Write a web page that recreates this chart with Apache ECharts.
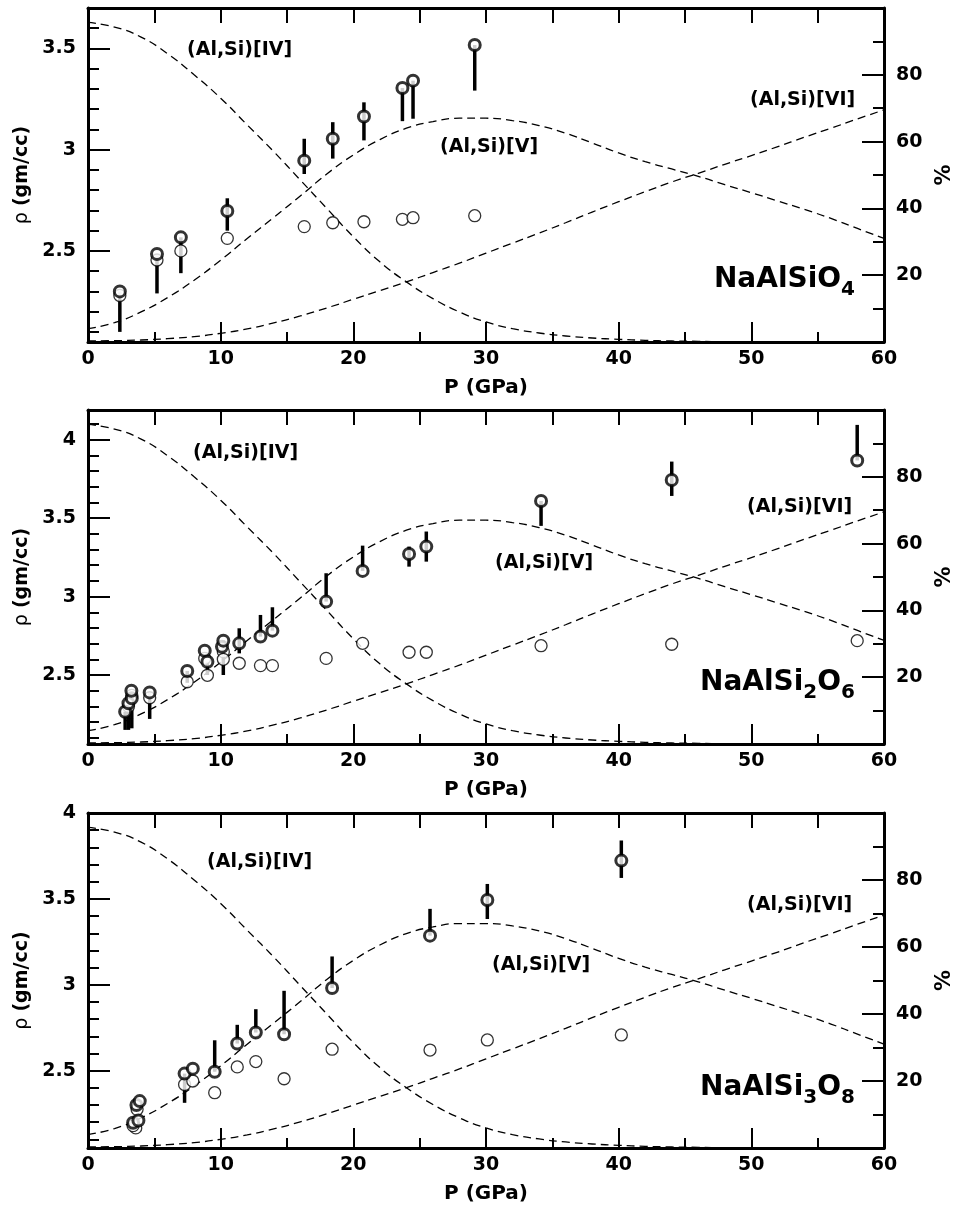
<!DOCTYPE html>
<html>
<head>
<meta charset="utf-8">
<script src="https://cdn.jsdelivr.net/npm/echarts@6/dist/echarts.min.js"></script>
<style>
  html, body { margin: 0; padding: 0; background: #fff; }
  #chart { width: 963px; height: 1214px; }
</style>
</head>
<body>
<div id="chart"></div>
<script>
// Coordination fractions of (Al,Si) versus pressure (%), shared by all three panels
const curveP = [0, 2, 4, 6, 8, 10, 12, 14, 16, 18, 20, 22, 24, 26, 28, 30,
                32, 34, 36, 38, 40, 42, 44, 46, 48, 50, 52, 54, 56, 58, 60];
const pctIV = [95.7, 94.3, 91.3, 86.3, 80, 73, 65, 57, 48.5, 40, 31.5, 24, 18, 13, 9, 6,
               4, 2.7, 1.8, 1.2, 0.8, 0.5, 0.3, 0.2, 0.1, 0.1, 0, 0, 0, 0, 0];
const pctV = [4, 5.8, 9, 13.3, 18.5, 24.5, 31, 37.3, 43.7, 50.3, 56, 60.6, 64, 66, 67, 67,
              66.3, 64.8, 62.5, 59.6, 56.6, 54, 51.8, 49.6, 47.1, 44.7, 42.2, 39.7, 37, 34, 31];
const pctVI = [0.3, 0.4, 0.6, 1.0, 1.6, 2.6, 3.9, 5.7, 7.8, 10.2, 12.8, 15.4, 18, 20.8, 23.6, 26.6,
               29.6, 32.6, 35.7, 38.9, 42, 45, 47.9, 50.5, 53.2, 55.8, 58.5, 61.3, 64, 66.8, 69.5];

// In-situ densities: [P (GPa), rho (g/cc), bar low, bar high]
const naAlSiO4InSitu = [
  [2.4, 2.30, 2.10, 2.30], [5.2, 2.485, 2.29, 2.485], [7.0, 2.567, 2.39, 2.567],
  [10.5, 2.697, 2.60, 2.76], [16.3, 2.946, 2.88, 3.054], [18.45, 3.054, 2.956, 3.136],
  [20.8, 3.164, 3.046, 3.234], [23.7, 3.305, 3.141, 3.305], [24.5, 3.341, 3.153, 3.341],
  [29.15, 3.517, 3.292, 3.517]
];
// Recovered densities: [P (GPa), rho (g/cc)]
const naAlSiO4Recovered = [
  [2.4, 2.28], [5.2, 2.455], [7.0, 2.50], [10.5, 2.562], [16.3, 2.62], [18.45, 2.639],
  [20.8, 2.644], [23.7, 2.656], [24.5, 2.664], [29.15, 2.674]
];

const naAlSi2O6InSitu = [
  [2.8, 2.266, 2.15, 2.266], [3.05, 2.32, 2.15, 2.32], [3.3, 2.351, 2.16, 2.351],
  [3.27, 2.40, 2.40, 2.40], [4.65, 2.389, 2.22, 2.389], [7.48, 2.526, 2.45, 2.526],
  [8.8, 2.655, 2.655, 2.655], [9.0, 2.585, 2.50, 2.585], [10.1, 2.68, 2.68, 2.68],
  [10.2, 2.719, 2.50, 2.719], [11.4, 2.702, 2.638, 2.798], [13.0, 2.745, 2.745, 2.883],
  [13.9, 2.783, 2.783, 2.932], [17.95, 2.968, 2.968, 3.149], [20.7, 3.164, 3.164, 3.325],
  [24.2, 3.272, 3.191, 3.319], [25.5, 3.319, 3.223, 3.415], [34.15, 3.61, 3.451, 3.61],
  [44.0, 3.744, 3.642, 3.861], [57.98, 3.868, 3.868, 4.095]
];
const naAlSi2O6Recovered = [
  [3.05, 2.30], [3.3, 2.37], [4.65, 2.355], [7.48, 2.457], [9.0, 2.498], [8.8, 2.606],
  [10.2, 2.649], [10.2, 2.60], [11.4, 2.575], [13.0, 2.56], [13.9, 2.56], [17.95, 2.606],
  [20.7, 2.702], [24.2, 2.645], [25.5, 2.645], [34.15, 2.687], [44.0, 2.696], [57.98, 2.719]
];

const naAlSi3O8InSitu = [
  [3.4, 2.197, 2.197, 2.197], [3.8, 2.21, 2.21, 2.21], [3.65, 2.30, 2.30, 2.30],
  [3.9, 2.323, 2.323, 2.323], [7.28, 2.483, 2.313, 2.483], [7.9, 2.512, 2.512, 2.512],
  [9.55, 2.494, 2.494, 2.677], [11.25, 2.658, 2.658, 2.767], [12.65, 2.722, 2.722, 2.858],
  [14.78, 2.712, 2.712, 2.965], [18.4, 2.981, 2.981, 3.165], [25.78, 3.286, 3.286, 3.442],
  [30.1, 3.494, 3.383, 3.587], [40.2, 3.723, 3.622, 3.84]
];
const naAlSi3O8Recovered = [
  [3.6, 2.167], [3.4, 2.18], [3.7, 2.275], [7.28, 2.42], [7.9, 2.44], [9.55, 2.372],
  [11.25, 2.522], [12.65, 2.553], [14.78, 2.453], [18.4, 2.625], [25.78, 2.62],
  [30.1, 2.679], [40.2, 2.708]
];

// Axis tick labels
const rhoLabels1 = [2.5, 3, 3.5];
const rhoLabels2 = [2.5, 3, 3.5, 4];
const rhoLabels3 = [2.5, 3, 3.5, 4];
const pctLabels = [20, 40, 60, 80];
const siteLabels = ['(Al,Si)[IV]', '(Al,Si)[V]', '(Al,Si)[VI]'];

const FONT = '"DejaVu Sans", sans-serif';
const BLACK = '#000';

const panels = [
  { top: 8, height: 334, rhoMin: 2.05, rhoMax: 3.7, rhoLabels: rhoLabels1,
    inSitu: naAlSiO4InSitu, recovered: naAlSiO4Recovered,
    formula: '{m|NaAlSiO}{s|4}', formulaTop: 266,
    sitePos: [[187, 50], [440, 147], [750, 100]] },
  { top: 410, height: 334, rhoMin: 2.06, rhoMax: 4.19, rhoLabels: rhoLabels2,
    inSitu: naAlSi2O6InSitu, recovered: naAlSi2O6Recovered,
    formula: '{m|NaAlSi}{s|2}{m|O}{s|6}', formulaTop: 669,
    sitePos: [[193, 453], [495, 563], [747, 507]] },
  { top: 813, height: 335, rhoMin: 2.05, rhoMax: 4.0, rhoLabels: rhoLabels3,
    inSitu: naAlSi3O8InSitu, recovered: naAlSi3O8Recovered,
    formula: '{m|NaAlSi}{s|3}{m|O}{s|8}', formulaTop: 1074,
    sitePos: [[207, 862], [492, 965], [747, 905]] }
];

function minorRhoTicks(lo, hi) {
  const out = [];
  for (let k = Math.ceil(lo * 10 + 1e-6); k <= Math.floor(hi * 10 - 1e-6); k++) {
    if (k % 5 !== 0) out.push(k / 10);
  }
  return out;
}

const frameLine = { show: true, onZero: false, lineStyle: { color: BLACK, width: 3 } };
const tickStyle = { color: BLACK, width: 2 };
const labelStyle = { color: BLACK, fontFamily: FONT, fontWeight: 'bold', fontSize: 19 };

const grid = [], xAxis = [], yAxis = [], series = [], graphic = [], title = [];

panels.forEach((pn, i) => {
  grid.push({ left: 88, width: 800, top: pn.top, height: pn.height });

  // bottom pressure axis
  xAxis.push({
    gridIndex: i, type: 'value', min: 0, max: 60, interval: 10, position: 'bottom',
    name: 'P (GPa)', nameLocation: 'middle', nameGap: 36,
    nameTextStyle: { color: BLACK, fontFamily: FONT, fontWeight: 'bold', fontSize: 20 },
    axisLine: frameLine,
    axisTick: { show: true, inside: true, length: 20, lineStyle: tickStyle },
    minorTick: { show: true, splitNumber: 2, length: 10, lineStyle: tickStyle },
    axisLabel: Object.assign({ margin: 8 }, labelStyle),
    splitLine: { show: false }, minorSplitLine: { show: false }
  });
  // top frame with ticks
  xAxis.push({
    gridIndex: i, type: 'value', min: 0, max: 60, interval: 5, position: 'top',
    axisLine: frameLine,
    axisTick: { show: true, inside: true, length: 15, lineStyle: tickStyle },
    axisLabel: { show: false }, splitLine: { show: false }
  });

  // density axis (major ticks + labels)
  yAxis.push({
    gridIndex: i, type: 'value', min: pn.rhoMin, max: pn.rhoMax, position: 'left',
    name: '{r|ρ} {b|(gm/cc)}', nameLocation: 'middle', nameGap: 55, nameRotate: 90,
    nameTextStyle: {
      color: BLACK, fontFamily: FONT, fontSize: 19,
      rich: {
        r: { fontFamily: FONT, fontSize: 19, fontWeight: 'normal', color: BLACK },
        b: { fontFamily: FONT, fontSize: 19, fontWeight: 'bold', color: BLACK }
      }
    },
    axisLine: frameLine,
    axisTick: { show: true, inside: true, length: 22, lineStyle: tickStyle, customValues: pn.rhoLabels },
    axisLabel: Object.assign({ margin: 12, customValues: pn.rhoLabels }, labelStyle),
    splitLine: { show: false }
  });
  // density axis (0.1 minor ticks)
  yAxis.push({
    gridIndex: i, type: 'value', min: pn.rhoMin, max: pn.rhoMax, position: 'left',
    axisLine: { show: false, onZero: false },
    axisTick: { show: true, inside: true, length: 11, lineStyle: tickStyle,
                customValues: minorRhoTicks(pn.rhoMin, pn.rhoMax) },
    axisLabel: { show: false }, splitLine: { show: false }
  });
  // percentage axis
  yAxis.push({
    gridIndex: i, type: 'value', min: 0, max: 100, interval: 20, position: 'right',
    name: '%', nameLocation: 'middle', nameGap: 50, nameRotate: 90,
    nameTextStyle: { color: BLACK, fontFamily: FONT, fontWeight: 'bold', fontSize: 21 },
    axisLine: frameLine,
    axisTick: { show: true, inside: true, length: 22, lineStyle: tickStyle },
    minorTick: { show: true, splitNumber: 2, length: 11, lineStyle: tickStyle },
    axisLabel: Object.assign({ margin: 12, customValues: pctLabels }, labelStyle),
    splitLine: { show: false }, minorSplitLine: { show: false }
  });

  const xi = 2 * i, yRho = 3 * i, yPct = 3 * i + 2;

  [pctIV, pctV, pctVI].forEach((arr, k) => {
    series.push({
      type: 'line', name: siteLabels[k], xAxisIndex: xi, yAxisIndex: yPct,
      data: curveP.map((p, j) => [p, arr[j]]),
      showSymbol: false, smooth: 0.5, silent: true, z: 1,
      lineStyle: { color: BLACK, width: 1.3, type: [8, 5] }
    });
  });

  // vertical bars on the in-situ points
  series.push({
    type: 'custom', xAxisIndex: xi, yAxisIndex: yRho, z: 2, silent: true,
    data: pn.inSitu.map(d => [d[0], d[2], d[3]]),
    encode: { x: 0, y: [1, 2] },
    renderItem: (params, api) => {
      const a = api.coord([api.value(0), api.value(1)]);
      const b = api.coord([api.value(0), api.value(2)]);
      return {
        type: 'line',
        shape: { x1: a[0], y1: a[1], x2: b[0], y2: b[1] },
        style: { stroke: BLACK, lineWidth: 3.5 }
      };
    }
  });

  series.push({
    type: 'scatter', xAxisIndex: xi, yAxisIndex: yRho, z: 3, silent: true,
    data: pn.recovered, symbol: 'circle', symbolSize: 12,
    itemStyle: { color: '#fff', borderColor: BLACK, borderWidth: 1.3 }
  });
  series.push({
    type: 'scatter', xAxisIndex: xi, yAxisIndex: yRho, z: 4, silent: true,
    data: pn.inSitu.map(d => [d[0], d[1]]), symbol: 'circle', symbolSize: 11,
    itemStyle: { color: '#fff', borderColor: BLACK, borderWidth: 3 }
  });

  pn.sitePos.forEach((pos, k) => {
    graphic.push({
      type: 'text', x: pos[0], y: pos[1], z: 10,
      style: {
        text: siteLabels[k], fill: BLACK, font: 'bold 19px ' + FONT,
        align: 'left', verticalAlign: 'middle'
      }
    });
  });

  title.push({
    text: pn.formula, right: 108, top: pn.formulaTop, padding: 0,
    textStyle: {
      rich: {
        m: { fontFamily: FONT, fontWeight: 'bold', fontSize: 28, lineHeight: 34,
             color: BLACK, verticalAlign: 'top' },
        s: { fontFamily: FONT, fontWeight: 'bold', fontSize: 20, lineHeight: 24,
             color: BLACK, verticalAlign: 'bottom', padding: [20, 0, 0, 0] }
      }
    }
  });
});

const chart = echarts.init(document.getElementById('chart'), null, { renderer: 'canvas' });
chart.setOption({
  backgroundColor: '#fff',
  animation: false,
  title, grid, xAxis, yAxis, series, graphic
});
</script>
</body>
</html>
